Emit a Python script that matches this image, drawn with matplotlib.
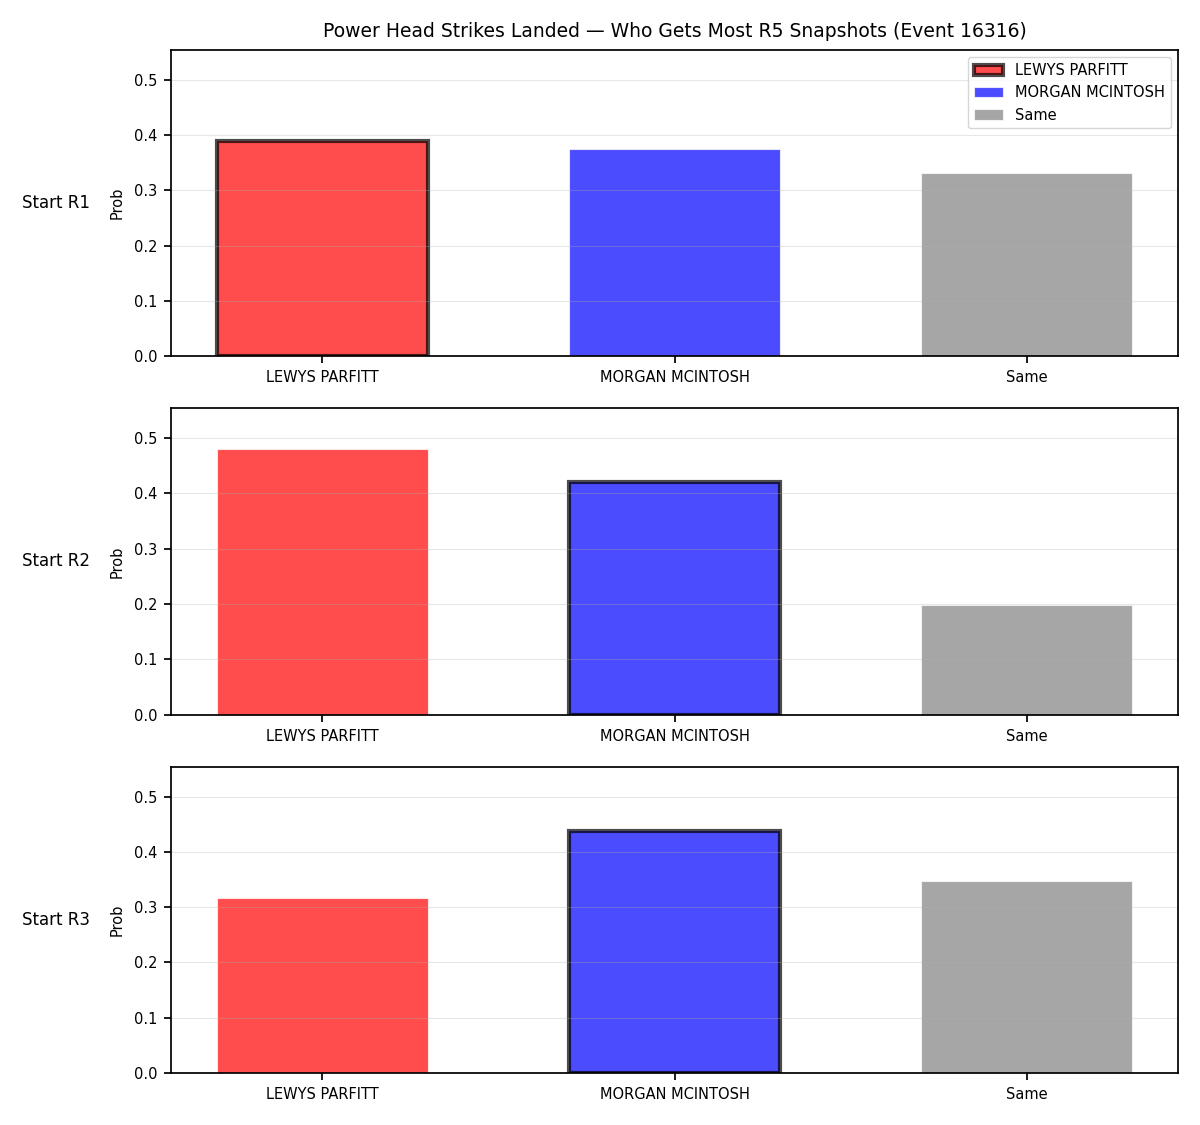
import numpy as np
import matplotlib
matplotlib.use("Agg")
from matplotlib import pyplot as plt

title = "Power Head Strikes Landed \u2014 Who Gets Most R5 Snapshots (Event 16316)"
outcomes = ["LEWYS PARFITT", "MORGAN MCINTOSH", "Same"]
colors = ["red", "blue", "gray"]
rows = ["Start R1", "Start R2", "Start R3"]

r1 = [0.390, 0.375, 0.332]
r2 = [0.481, 0.421, 0.199]
r3 = [0.316, 0.438, 0.347]
probs = [r1, r2, r3]
# outcome outlined in each row
marked = [0, 1, 1]

plt.rcParams['font.size'] = 10.5
plt.rcParams['axes.linewidth'] = 1.25
for a in ('xtick', 'ytick'):
    plt.rcParams[a + '.major.size'] = 5
    plt.rcParams[a + '.major.width'] = 1.25
    plt.rcParams[a + '.major.pad'] = 5

fig, axes = plt.subplots(3, 1, figsize=(12, 11.25), dpi=100)
fig.subplots_adjust(left=0.1425, right=0.9817, top=0.9556, bottom=0.0462, hspace=0.17)

x = np.arange(len(outcomes))
for ax, row, vals, m in zip(axes, rows, probs, marked):
    for i, (name, c, v) in enumerate(zip(outcomes, colors, vals)):
        if i == m:
            ax.bar(x[i], v, width=0.6, color=c, alpha=0.7, edgecolor="black",
                   linewidth=3, label=name)
        else:
            ax.bar(x[i], v, width=0.6, color=c, alpha=0.7, edgecolor="white",
                   linewidth=0.8, label=name)
    ax.set_xticks(x)
    ax.set_xticklabels(outcomes)
    ax.set_ylim(0, 0.554)
    ax.set_ylabel("Prob", labelpad=6.5)
    ax.grid(axis="y", alpha=0.3)
    ax.text(-0.08, 0.5, row, transform=ax.transAxes, ha="right", va="center", fontsize=12)

axes[0].legend(loc="upper right")
axes[0].set_title(title, fontsize=13.5, pad=9.5)

fig.savefig("out.png", dpi=100)
